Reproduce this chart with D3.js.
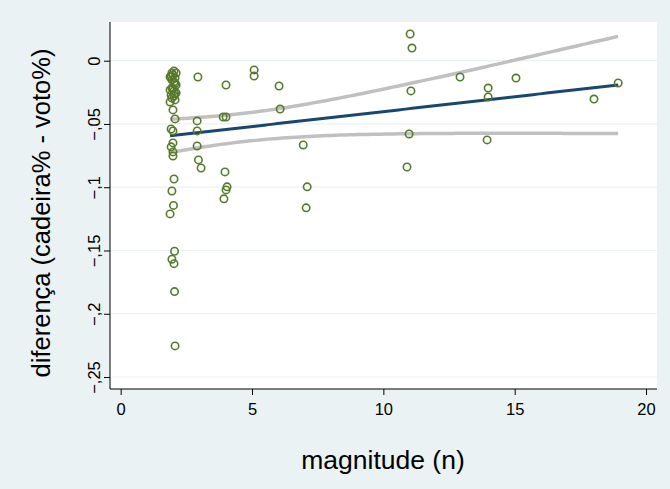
<!DOCTYPE html>
<html>
<head>
<meta charset="utf-8">
<script src="https://cdn.jsdelivr.net/npm/d3@7"></script>
<style>
  body { margin: 0; background: #eaf2f3; }
  svg { display: block; }
</style>
</head>
<body>
<svg width="670" height="489"></svg>
<script>
// magnitude (n) and diferença (cadeira% - voto%)
const magnitude = [
  2.03, 1.95, 2.11, 1.99, 1.88, 2.07, 1.95, 2.03, 2.11, 1.95, 1.88, 2.03, 2.11, 1.92, 2.03, 1.95, 2.07, 1.88,
  1.92, 2.07, 1.99, 2.05,
  1.99, 2.07, 1.92, 1.99, 1.99, 1.92, 1.99, 1.99, 2.03, 1.95, 2.01, 1.88, 2.05, 1.95, 2.03, 2.05, 2.07,
  2.94, 2.91, 2.91, 2.91, 2.96, 3.06,
  4.01, 3.90, 4.01, 3.97, 4.05, 4.01, 3.93,
  5.08, 5.08,
  6.03, 6.07,
  6.95, 7.10, 7.06,
  11.02, 11.09, 11.05, 10.98, 10.90,
  12.92,
  13.99, 13.99, 13.95,
  15.05,
  18.02,
  18.94
];
const diferenca = [
  -0.0081, -0.0097, -0.0097, -0.0113, -0.0129, -0.0137, -0.0152, -0.0168, -0.0192, -0.0216, -0.0231, -0.0239, -0.0255, -0.0271, -0.0279, -0.0295, -0.0310, -0.0326,
  -0.0120, -0.0180, -0.0220, -0.0260,
  -0.0389, -0.0460, -0.0540, -0.0555, -0.0650, -0.0681, -0.0721, -0.0753, -0.0935, -0.1030, -0.1144, -0.1211, -0.1506, -0.1569, -0.1604, -0.1825, -0.2254,
  -0.0129, -0.0476, -0.0555, -0.0674, -0.0784, -0.0848,
  -0.0192, -0.0445, -0.0445, -0.0879, -0.0997, -0.1021, -0.1092,
  -0.0073, -0.0121,
  -0.0200, -0.0382,
  -0.0666, -0.0997, -0.1163,
  0.0211, 0.0100, -0.0239, -0.0579, -0.0840,
  -0.0129,
  -0.0216, -0.0287, -0.0626,
  -0.0137,
  -0.0303,
  -0.0176
];
const xTicks = [0, 5, 10, 15, 20];
const yTicks = [0, -0.05, -0.1, -0.15, -0.2, -0.25];

const svg = d3.select("svg");
const font = "Liberation Sans, Arial, sans-serif";

// plot region box
const plot = { left: 110, right: 657, top: 22, bottom: 389 };

const x = d3.scaleLinear().domain([0, 20]).range([120.7, 646]);
const y = d3.scaleLinear().domain([0, -0.25]).range([60.7, 377]);

svg.append("rect")
   .attr("width", 670)
   .attr("height", 489)
   .attr("fill", "#eaf2f3");

svg.append("rect")
   .attr("x", plot.left)
   .attr("y", plot.top)
   .attr("width", plot.right - plot.left)
   .attr("height", plot.bottom - plot.top)
   .attr("fill", "#fff");

// horizontal grid
svg.append("g")
   .selectAll("line")
   .data(yTicks)
   .join("line")
   .attr("x1", plot.left)
   .attr("x2", plot.right)
   .attr("y1", d => y(d))
   .attr("y2", d => y(d))
   .attr("stroke", "#eaf2f3")
   .attr("stroke-width", 1.2);

// linear fit with 95% CI of the mean (like lfitci)
const pts = magnitude.map((m, i) => [m, diferenca[i]]);
const n = pts.length;
const xbar = d3.mean(pts, d => d[0]);
const ybar = d3.mean(pts, d => d[1]);
const sxx = d3.sum(pts, d => (d[0] - xbar) ** 2);
const sxy = d3.sum(pts, d => (d[0] - xbar) * (d[1] - ybar));
const b = sxy / sxx;
const a = ybar - b * xbar;
const s = Math.sqrt(d3.sum(pts, d => (d[1] - a - b * d[0]) ** 2) / (n - 2));
const df = n - 2, z = 1.959964;
const t = z + (z ** 3 + z) / (4 * df) + (5 * z ** 5 + 16 * z ** 3 + 3 * z) / (96 * df * df);

const [xmin, xmax] = d3.extent(magnitude);
const grid = d3.range(0, 101).map(k => xmin + (xmax - xmin) * k / 100);
const fit = grid.map(g => {
  const yhat = a + b * g;
  const se = s * Math.sqrt(1 / n + (g - xbar) ** 2 / sxx);
  return { x: g, y: yhat, lo: yhat - t * se, hi: yhat + t * se };
});

const line = key => d3.line().x(d => x(d.x)).y(d => y(d[key]));

svg.append("path")
   .datum(fit)
   .attr("d", line("hi"))
   .attr("fill", "none")
   .attr("stroke", "#c0c0c0")
   .attr("stroke-width", 3.5);

svg.append("path")
   .datum(fit)
   .attr("d", line("lo"))
   .attr("fill", "none")
   .attr("stroke", "#c0c0c0")
   .attr("stroke-width", 3.5);

svg.append("path")
   .datum(fit)
   .attr("d", line("y"))
   .attr("fill", "none")
   .attr("stroke", "#1a476f")
   .attr("stroke-width", 3);

// scatter points
svg.append("g")
   .selectAll("circle")
   .data(pts)
   .join("circle")
   .attr("cx", d => x(d[0]))
   .attr("cy", d => y(d[1]))
   .attr("r", 3.7)
   .attr("fill", "none")
   .attr("stroke", "#577a2a")
   .attr("stroke-width", 1.6);

// axes
const xAxis = svg.append("g")
   .attr("transform", `translate(0,${plot.bottom})`)
   .call(d3.axisBottom(x).tickValues(xTicks).tickSize(6).tickSizeOuter(0).tickFormat(d3.format("d")));
xAxis.select(".domain").attr("d", `M${plot.left},0H${plot.right}`).attr("stroke", "#000");
xAxis.selectAll(".tick line").attr("stroke", "#000");
xAxis.selectAll(".tick text")
   .attr("font-family", font)
   .attr("font-size", 16.5)
   .attr("fill", "#000")
   .attr("dy", "1.05em");

const fmtY = d => d === 0 ? "0" : d3.format(".2~f")(d).replace("0.", ",");
const yAxis = svg.append("g")
   .attr("transform", `translate(${plot.left},0)`)
   .call(d3.axisLeft(y).tickValues(yTicks).tickSize(6).tickSizeOuter(0).tickFormat(fmtY));
yAxis.select(".domain").attr("d", `M0,${plot.top}V${plot.bottom}`).attr("stroke", "#000");
yAxis.selectAll(".tick line").attr("stroke", "#000");
yAxis.selectAll(".tick text")
   .attr("font-family", font)
   .attr("font-size", 16.5)
   .attr("fill", "#000")
   .attr("x", null)
   .attr("dy", null)
   .attr("text-anchor", "middle")
   .attr("transform", "translate(-10,0) rotate(-90)")
   .attr("y", 0);

// axis titles
svg.append("text")
   .attr("x", 383)
   .attr("y", 469)
   .attr("text-anchor", "middle")
   .attr("font-family", font)
   .attr("font-size", 26.5)
   .attr("fill", "#000")
   .text("magnitude (n)");

svg.append("text")
   .attr("transform", "translate(50,213) rotate(-90)")
   .attr("text-anchor", "middle")
   .attr("font-family", font)
   .attr("font-size", 25.5)
   .attr("fill", "#000")
   .text("diferença (cadeira% - voto%)");
</script>
</body>
</html>
